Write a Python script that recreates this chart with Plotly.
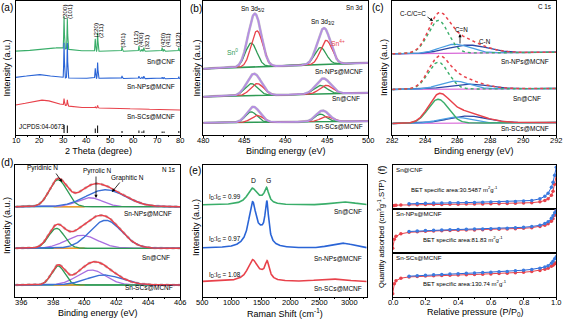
import numpy as np
import plotly.graph_objects as go

W, H = 566, 321
FONT = "Liberation Sans, Arial, sans-serif"

RED = "#e8424b"
GREEN = "#3aae6a"
BLUE = "#2a64d6"
PURPLE = "#b58fe3"
GRAY = "rgba(140,140,140,0.5)"
LBLUE = "#4c9fe2"
NAVY = "#2b47a6"
PINK = "#d868d8"
ORANGE = "#f39a2b"

# ================= DATA =================
# ---- tick labels ----
a_ticks = [10, 20, 30, 40, 50, 60, 70, 80]
b_ticks = [480, 485, 490, 495, 500]
c_ticks = [282, 284, 286, 288, 290, 292]
d_ticks = [396, 398, 400, 402, 404, 406]
e_ticks = [500, 1000, 1500, 2000, 2500, 3000]
f_ticks = [0.0, 0.2, 0.4, 0.6, 0.8, 1.0]

# ---- (a) XRD ----
xrd_hkl = ["(200)", "(101)", "(220)", "(211)", "(301)", "(112)", "(400)", "(321)", "(420)", "(411)", "(312)"]
xrd_pos = [30.6, 32.0, 43.9, 44.9, 55.3, 62.5, 63.8, 64.6, 72.4, 73.2, 79.5]
xrd_sn_cnf = [32.4, 31.0, 12.4, 18.4, 4.0, 5.0, 2.0, 3.5, 3.5, 2.0, 3.5]
xrd_sn_nps = [35.0, 35.0, 10.0, 15.7, 2.5, 2.5, 1.5, 2.5, 1.5, 1.5, 2.0]
xrd_sn_scs = [6.5, 6.0, 1.0, 2.5, 0.0, 0.5, 0.0, 0.5, 0.0, 0.0, 0.5]
xrd_ref = [8.0, 7.5, 4.5, 7.5, 2.0, 2.5, 1.5, 2.5, 1.5, 1.5, 2.0]
xrd_samples = ["Sn@CNF", "Sn-NPs@MCNF", "Sn-SCs@MCNF"]
xrd_base_left = [83.3, 56.7, 28.5]
xrd_base_right = [83.3, 55.7, 24.5]
xrd_hump_center = [26.0, 20.0, 21.5]
xrd_hump_height = [3.4, 3.3, 6.5]
xrd_hump_width = [6.0, 5.0, 6.0]

# ---- (b) Sn 3d XPS ----
b_samples = ["Sn-NPs@MCNF", "Sn@CNF", "Sn-SCs@MCNF"]
b_sn0_center = [485.8, 494.2]
b_sn4_center = [486.5, 494.9]
b_sn0_nps = [24.0, 17.0]
b_sn4_nps = [36.0, 24.0]
b_sn0_cnf = [12.0, 8.5]
b_sn4_cnf = [12.0, 8.5]
b_sn0_scs = [10.5, 7.5]
b_sn4_scs = [7.0, 5.0]
b_sigma = [0.7, 0.8, 0.7]
b_base_left = [65.7, 37.7, 11.7]
b_base_right = [71.7, 41.7, 13.3]

# ---- (c) C 1s XPS ----
c_samples = ["Sn-NPs@MCNF", "Sn@CNF", "Sn-SCs@MCNF"]
c_centers = [284.8, 285.8, 286.6]          # C-C/C=C, C=N, C-N
c_cc_amp = [33.0, 27.0, 24.0]
c_cn_double_amp = [9.0, 8.0, 6.0]
c_cn_single_amp = [8.0, 5.0, 7.0]
c_sigmas = [0.62, 0.9, 1.2]
c_base_left = [80.7, 45.0, 11.0]
c_base_right = [82.3, 46.0, 12.0]

# ---- (d) N 1s XPS ----
d_samples = ["Sn-NPs@MCNF", "Sn@CNF", "Sn-SCs@MCNF"]
d_pyridinic_c = [398.3, 398.2, 398.3]
d_pyridinic_a = [27.0, 20.0, 19.0]
d_pyridinic_s = [0.55, 0.5, 0.42]
d_pyrrolic_c = [400.3, 399.8, 400.4]
d_pyrrolic_a = [9.0, 13.0, 15.0]
d_pyrrolic_s = [0.8, 1.0, 0.9]
d_graphitic_c = [401.3, 401.3, 401.2]
d_graphitic_a = [17.0, 28.0, 10.0]
d_graphitic_s = [1.25, 1.0, 1.1]
d_base = [90.0, 48.4, 11.7]

# ---- (e) Raman ----
e_samples = ["Sn@CNF", "Sn-NPs@MCNF", "Sn-SCs@MCNF"]
e_ratio = ["0.99", "0.97", "1.08"]
e_D_c = [1345, 1350, 1350]
e_D_a = [16.0, 44.0, 21.0]
e_D_w = [100, 80, 100]
e_G_c = [1590, 1595, 1600]
e_G_a = [14.5, 40.0, 17.0]
e_G_w = [45, 38, 45]
e_D3_c = [1500, 1500, 1500]
e_D3_a = [2.0, 8.0, 3.0]
e_D3_w = [80, 80, 80]
e_2D_c = [2900, 2880, 2700]
e_2D_a = [3.0, 5.0, 2.5]
e_2D_w = [200, 200, 250]
e_base = [91.7, 48.4, 15.0]

# ---- (f) N2 isotherms ----
f_samples = ["Sn@CNF", "Sn-NPs@MCNF", "Sn-SCs@MCNF"]
f_bet = ["30.5487", "81.83", "130.74"]
f_p_ads = [0.0, 0.01, 0.02, 0.05, 0.1, 0.15, 0.2, 0.25, 0.3, 0.35, 0.4, 0.45, 0.5, 0.55, 0.6, 0.65, 0.7, 0.75, 0.8, 0.85, 0.9, 0.93, 0.95, 0.97, 0.98, 0.99, 1.0]
f_ads_cnf = [3.5, 3.9, 4.1, 4.3, 4.5, 4.6, 4.7, 4.8, 4.9, 5.0, 5.1, 5.2, 5.3, 5.4, 5.5, 5.6, 5.8, 6.0, 6.2, 6.6, 7.5, 8.8, 10.5, 14.0, 18.0, 25.0, 34.0]
f_ads_nps = [5.0, 14.0, 17.0, 19.5, 21.0, 21.6, 22.0, 22.3, 22.6, 22.8, 23.0, 23.2, 23.4, 23.6, 23.8, 24.0, 24.2, 24.6, 25.0, 25.6, 26.8, 28.0, 29.5, 32.0, 34.5, 38.0, 43.0]
f_ads_scs = [3.0, 13.0, 16.0, 18.5, 19.8, 20.2, 20.6, 20.9, 21.2, 21.5, 21.7, 22.0, 22.2, 22.5, 22.8, 23.1, 23.5, 24.0, 24.5, 25.2, 26.3, 27.5, 28.5, 30.5, 31.5, 33.0, 34.0]
f_p_des = [0.1, 0.15, 0.2, 0.25, 0.3, 0.35, 0.4, 0.45, 0.5, 0.55, 0.6, 0.65, 0.7, 0.75, 0.8, 0.85, 0.9, 0.93, 0.95, 0.97, 0.98, 0.99, 1.0]
f_des_cnf = [5.5, 5.8, 6.0, 6.2, 6.3, 6.5, 6.6, 6.7, 6.9, 7.0, 7.2, 7.4, 7.6, 7.9, 8.2, 8.8, 10.5, 13.0, 16.0, 22.0, 27.0, 34.0, 42.0]
f_des_nps = [21.8, 22.3, 22.7, 23.0, 23.3, 23.6, 23.8, 24.0, 24.2, 24.4, 24.6, 24.8, 25.1, 25.5, 26.0, 26.8, 28.0, 29.8, 31.5, 35.0, 37.5, 40.5, 43.5]
f_des_scs = [20.5, 21.0, 21.5, 21.9, 22.3, 22.7, 23.0, 23.4, 23.7, 24.1, 24.5, 24.9, 25.3, 25.9, 26.5, 27.3, 28.5, 29.7, 31.0, 33.5, 35.5, 38.0, 40.0]


# ================= HELPERS =================
def gauss(x, c, a, s):
    return a * np.exp(-0.5 * ((x - c) / s) ** 2)


def lor(x, c, a, g):
    return a / (1.0 + ((x - c) / g) ** 2)


def line_base(x, left, right):
    return left + (right - left) * (x - x[0]) / (x[-1] - x[0])


def P(x, y):
    return x / W, 1 - y / H


fig = go.Figure()
annotations = []


def ann(text, x, y, size=6.5, color="black", xanchor="center", yanchor="middle", angle=0):
    px, py = P(x, y)
    annotations.append(dict(text=text, x=px, y=py, xref="paper", yref="paper", showarrow=False,
                            font=dict(size=size, color=color, family=FONT), xanchor=xanchor,
                            yanchor=yanchor, textangle=angle))


def tick_labels(vals, xref, ypix, fmt="{:g}"):
    for v in vals:
        annotations.append(dict(text=fmt.format(v), x=v, y=1 - ypix / H, xref=xref, yref="paper",
                                showarrow=False, font=dict(size=7.5, color="black", family=FONT),
                                xanchor="center", yanchor="middle"))


def arrow(x0, y0, x1, y1):
    px1, py1 = P(x1, y1)
    annotations.append(dict(text="", x=px1, y=py1, ax=x0 - x1, ay=y0 - y1, xref="paper", yref="paper",
                            axref="pixel", ayref="pixel", showarrow=True, arrowhead=2, arrowsize=0.8,
                            arrowwidth=0.8, arrowcolor="black"))


def tr(x, y, ax, color, width=1.2, dash=None, mode="lines", marker=None):
    fig.add_trace(go.Scatter(x=x, y=y, mode=mode, xaxis="x" + ax, yaxis="y" + ax,
                             line=dict(color=color, width=width, dash=dash),
                             marker=marker, showlegend=False, hoverinfo="skip"))


# ================= (a) XRD =================
xa = np.linspace(10, 80, 3501)
xrd_cols = [GREEN, BLUE, RED]
xrd_sets = [xrd_sn_cnf, xrd_sn_nps, xrd_sn_scs]
for i in range(3):
    y = line_base(xa, xrd_base_left[i], xrd_base_right[i])
    y = y + gauss(xa, xrd_hump_center[i], xrd_hump_height[i], xrd_hump_width[i])
    for p, h in zip(xrd_pos, xrd_sets[i]):
        y = y + gauss(xa, p, h, 0.13)
    tr(xa, y, "", xrd_cols[i], 1.1)
sx, sy = [], []
for p, h in zip(xrd_pos, xrd_ref):
    sx += [p, p, None]
    sy += [1.5, 1.5 + h, None]
tr(sx, sy, "", "black", 1.0)

# ================= (b) Sn 3d =================
xb = np.linspace(480, 500, 801)
b_sn0 = [b_sn0_nps, b_sn0_cnf, b_sn0_scs]
b_sn4 = [b_sn4_nps, b_sn4_cnf, b_sn4_scs]
for i in range(3):
    base = line_base(xb, b_base_left[i], b_base_right[i])
    g = sum(gauss(xb, c, a, b_sigma[i]) for c, a in zip(b_sn0_center, b_sn0[i]))
    r = sum(gauss(xb, c, a, b_sigma[i]) for c, a in zip(b_sn4_center, b_sn4[i]))
    env = base + g + r
    tr(xb, env, "2", GRAY, 2.6)
    tr(xb, base, "2", "#2f9a55", 1.6)
    tr(xb, base + g, "2", "#2f9a55", 1.3)
    tr(xb, base + r, "2", RED, 1.3)
    tr(xb, env, "2", PURPLE, 1.8)

# ================= (c) C 1s =================
xc = np.linspace(282, 292, 501)
for i in range(3):
    base = line_base(xc, c_base_left[i], c_base_right[i])
    g1 = gauss(xc, c_centers[0], c_cc_amp[i], c_sigmas[0])
    g2 = gauss(xc, c_centers[1], c_cn_double_amp[i], c_sigmas[1])
    g3 = gauss(xc, c_centers[2], c_cn_single_amp[i], c_sigmas[2])
    env = base + g1 + g2 + g3
    dsh = "dot" if i < 2 else None
    tr(xc, base, "3", PINK, 1.2)
    tr(xc, base + g3, "3", NAVY, 1.3)
    tr(xc, base + g2, "3", LBLUE, 1.3)
    tr(xc, base + g1, "3", GREEN, 1.4, dash=dsh)
    tr(xc, env, "3", RED, 1.5, dash=dsh)

# ================= (d) N 1s =================
xd = np.linspace(395.6, 406, 521)
for i in range(3):
    base = np.full_like(xd, d_base[i])
    g1 = gauss(xd, d_pyridinic_c[i], d_pyridinic_a[i], d_pyridinic_s[i])
    g2 = gauss(xd, d_pyrrolic_c[i], d_pyrrolic_a[i], d_pyrrolic_s[i])
    g3 = gauss(xd, d_graphitic_c[i], d_graphitic_a[i], d_graphitic_s[i])
    env = base + g1 + g2 + g3
    tr(xd, env, "4", GRAY, 2.6, dash="dot")
    tr(xd, base, "4", "#2f9a55", 1.3)
    seg = (xd > 398.0) & (xd < 400.0)
    tr(xd[seg], base[seg], "4", ORANGE, 1.5)
    tr(xd, base + g2, "4", "#a86fe0", 1.3)
    tr(xd, base + g1, "4", "#2f9a55", 1.3)
    tr(xd, base + g3, "4", "#3a6fd6", 1.4)
    tr(xd, env, "4", RED, 1.5)

# ================= (e) Raman =================
xe = np.linspace(500, 3300, 1401)
e_cols = [GREEN, BLUE, RED]
for i in range(3):
    y = e_base[i] + lor(xe, e_D_c[i], e_D_a[i], e_D_w[i]) + lor(xe, e_G_c[i], e_G_a[i], e_G_w[i])
    y = y + lor(xe, e_D3_c[i], e_D3_a[i], e_D3_w[i]) + gauss(xe, e_2D_c[i], e_2D_a[i], e_2D_w[i])
    tr(xe, y, "5", e_cols[i], 1.6)

# ================= (f) isotherms =================
f_ads = [f_ads_cnf, f_ads_nps, f_ads_scs]
f_des = [f_des_cnf, f_des_nps, f_des_scs]
for i in range(3):
    ax = str(6 + i)
    tr(f_p_ads, f_ads[i], ax, RED, 1.0, mode="lines+markers",
       marker=dict(size=3.5, color=RED, symbol="circle"))
    tr(f_p_des, f_des[i], ax, BLUE, 1.0, mode="lines+markers",
       marker=dict(size=3.5, color="#3a7be0", symbol="circle"))


# ================= AXES =================
def xdom(x0, x1):
    return [x0 / W, x1 / W]


def ydom(y0, y1):
    return [1 - y1 / H, 1 - y0 / H]


def xaxis(dom, rng, dtick, tick0, anchor, ticks=True):
    d = dict(domain=dom, range=rng, dtick=dtick, tick0=tick0, anchor=anchor, showline=True,
             linecolor="black", linewidth=1, mirror=True, ticks="outside" if ticks else "",
             ticklen=2.5, tickcolor="black", tickwidth=1, showgrid=False, zeroline=False,
             showticklabels=False)
    if ticks:
        d["minor"] = dict(ticks="outside", ticklen=1.5, dtick=dtick / 2, tick0=tick0,
                          tickcolor="black", tickwidth=0.8, showgrid=False)
    return d


def yaxis(dom, rng, anchor):
    return dict(domain=dom, range=rng, anchor=anchor, showline=True, linecolor="black",
                linewidth=1, mirror=True, ticks="", showticklabels=False, showgrid=False,
                zeroline=False)


row1 = (1, 134.5)
row2 = (165, 296.7)
layout = dict(
    width=W, height=H, margin=dict(l=0, r=0, t=0, b=0), paper_bgcolor="white",
    plot_bgcolor="rgba(0,0,0,0)", showlegend=False, font=dict(family=FONT, color="black"),
    xaxis=xaxis(xdom(15.7, 180), [10, 80], 10, 10, "y"),
    yaxis=yaxis(ydom(*row1), [0, 133.5], "x"),
    xaxis2=xaxis(xdom(203.3, 368.3), [480, 500], 5, 480, "y2"),
    yaxis2=yaxis(ydom(*row1), [0, 133.5], "x2"),
    xaxis3=xaxis(xdom(392.3, 556.3), [282, 292], 2, 282, "y3"),
    yaxis3=yaxis(ydom(*row1), [0, 133.5], "x3"),
    xaxis4=xaxis(xdom(15.3, 180), [395.6, 406], 2, 396, "y4"),
    yaxis4=yaxis(ydom(*row2), [0, 131.7], "x4"),
    xaxis5=xaxis(xdom(202.7, 366.7), [500, 3300], 500, 500, "y5"),
    yaxis5=yaxis(ydom(*row2), [0, 131.7], "x5"),
    xaxis6=xaxis(xdom(392.7, 556.3), [0, 1], 0.2, 0, "y6", ticks=False),
    yaxis6=yaxis(ydom(165, 209.3), [0, 44.3], "x6"),
    xaxis7=xaxis(xdom(392.7, 556.3), [0, 1], 0.2, 0, "y7", ticks=False),
    yaxis7=yaxis(ydom(209.3, 253.3), [0, 44.0], "x7"),
    xaxis8=xaxis(xdom(392.7, 556.3), [0, 1], 0.2, 0, "y8"),
    yaxis8=yaxis(ydom(253.3, 296.7), [0, 43.4], "x8"),
)

# ================= TEXT =================
ty1, ty2 = 140.7, 302.5
tick_labels(a_ticks, "x", ty1)
tick_labels(b_ticks, "x2", ty1)
tick_labels(c_ticks, "x3", ty1)
tick_labels(d_ticks, "x4", ty2)
tick_labels(e_ticks, "x5", ty2)
tick_labels(f_ticks, "x8", ty2, fmt="{:.1f}")

for lab, x, y in [("(a)", 7, 7), ("(b)", 196, 8), ("(c)", 378, 7), ("(d)", 7, 163), ("(e)", 195, 171)]:
    ann(lab, x, y, size=10)
ann("(f)", 381, 170.5, size=9.5, angle=-90)

tf = 9
ann("2 Theta (degree)", 98, 150.5, tf)
ann("Binding energy (eV)", 286, 150.5, tf)
ann("Binding energy (eV)", 474, 150.5, tf)
ann("Binding energy (eV)", 98, 312.5, tf)
ann("Raman Shift (cm<sup>-1</sup>)", 285, 312.5, tf)
ann("Relative pressure (P/P<sub>0</sub>)", 475, 312.5, tf)
ann("Intensity (a.u.)", 6.5, 68, tf, angle=-90)
ann("Intensity (a.u.)", 196.5, 68, tf, angle=-90)
ann("Intensity (a.u.)", 384, 68, tf, angle=-90)
ann("Intensity (a.u.)", 7, 226, tf, angle=-90)
ann("Intensity (a.u.)", 196, 228, tf, angle=-90)
ann("Quantity adsorbed (cm<sup>3</sup>g<sup>-1</sup>,STP)", 381, 234, 7.6, angle=-90)

hkl_px = [(64, 12), (69, 12), (94.5, 31), (100, 31), (121.7, 41), (135, 38), (140, 40), (145.5, 43),
          (162.3, 40), (167.3, 40), (177, 40)]
for t, (x, y) in zip(xrd_hkl, hkl_px):
    ann(t, x, y, 6.2, angle=-90)
ann("Sn@CNF", 177, 61, 6.5, xanchor="right")
ann("Sn-NPs@MCNF", 177, 87, 6.5, xanchor="right")
ann("Sn-SCs@MCNF", 177, 117, 6.5, xanchor="right")
ann("JCPDS:04-0673", 17, 127, 6.3, xanchor="left")

ann("Sn 3d<sub>5/2</sub>", 253, 9.5, 6.5)
ann("Sn 3d<sub>3/2</sub>", 323, 22, 6.5)
ann("Sn 3d", 365, 7, 6.3, xanchor="right")
ann("Sn<sup>0</sup>", 232, 52, 6.8, color="#2f9a55")
ann("Sn<sup>4+</sup>", 338, 43, 6.8, color=RED)
ann("Sn-NPs@MCNF", 365, 71, 6.5, xanchor="right")
ann("Sn@CNF", 362, 99, 6.5, xanchor="right")
ann("Sn-SCs@MCNF", 365, 127, 6.5, xanchor="right")

ann("C-C/C=C", 413, 13, 6.3)
arrow(426, 16, 433, 21)
ann("C=N", 461, 29, 6.3)
arrow(460, 45, 460, 34)
ann("C-N", 485, 41, 6.3)
ann("C 1s", 553, 6, 6.3, xanchor="right")
ann("Sn-NPs@MCNF", 551, 61, 6.5, xanchor="right")
ann("Sn@CNF", 543, 98, 6.5, xanchor="right")
ann("Sn-SCs@MCNF", 551, 128, 6.5, xanchor="right")

ann("Pyridinic N", 42, 168, 6.5)
arrow(55, 172, 62, 182)
ann("Pyrrolic N", 97, 171, 6.5)
arrow(96, 175, 96, 198)
ann("Graphitic N", 127, 177.5, 6.5)
arrow(121, 181, 112, 192)
ann("N 1s", 177, 170, 6.3, xanchor="right")
ann("Sn-NPs@MCNF", 174, 213.3, 6.5, xanchor="right")
ann("Sn@CNF", 172, 257.7, 6.5, xanchor="right")
ann("Sn-SCs@MCNF", 175, 287.3, 6.5, xanchor="right")

ann("D", 253.3, 180.5, 6.8)
ann("G", 268.3, 180.5, 6.8)
for r, y in zip(e_ratio, [196.7, 239.3, 275]):
    ann("I<sub>D</sub>:I<sub>G</sub> = " + r, 206.5, y, 6.3, xanchor="left")
ann("Sn@CNF", 364, 211.7, 6.5, xanchor="right")
ann("Sn-NPs@MCNF", 364, 258.7, 6.5, xanchor="right")
ann("Sn-SCs@MCNF", 364, 288.3, 6.5, xanchor="right")

for s, y in zip(f_samples, [170, 213.3, 257.7]):
    ann(s, 394, y, 6.2, xanchor="left")
for b, (x, y) in zip(f_bet, [(409, 189.3), (421, 239.3), (421, 283.3)]):
    ann("BET specific area:" + b + " m<sup>2</sup>g<sup>-1</sup>", x, y, 6.0, xanchor="left")

layout["annotations"] = annotations
fig.update_layout(**layout)
fig.write_html("out.html")
